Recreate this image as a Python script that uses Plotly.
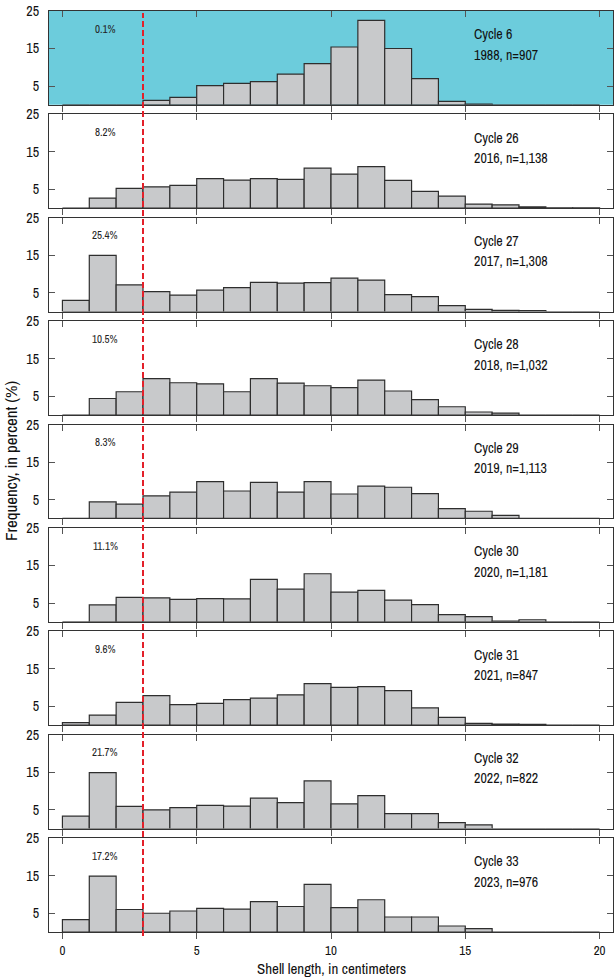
import plotly.graph_objects as go

# ---------------- data ----------------
bin_centers = [e + 0.5 for e in range(20)]   # 1-cm bins from 0 to 20 cm
cycles = ["Cycle 6", "Cycle 26", "Cycle 27", "Cycle 28", "Cycle 29",
          "Cycle 30", "Cycle 31", "Cycle 32", "Cycle 33"]
year_n = ["1988, n=907", "2016, n=1,138", "2017, n=1,308", "2018, n=1,032",
          "2019, n=1,113", "2020, n=1,181", "2021, n=847", "2022, n=822",
          "2023, n=976"]
pct_below = ["0.1%", "8.2%", "25.4%", "10.5%", "8.3%", "11.1%", "9.6%",
             "21.7%", "17.2%"]

freq_c6 = [0, 0, 0, 1.2, 2.0, 5.1, 5.7, 6.2, 8.2, 11.0, 15.4, 22.5, 15.0, 7.0, 0.9, 0.2, 0, 0, 0, 0]
freq_c26 = [0, 2.7, 5.3, 5.7, 6.1, 7.9, 7.5, 7.9, 7.7, 10.7, 9.1, 11.1, 7.4, 4.5, 3.2, 1.1, 0.9, 0.35, 0.1, 0.1]
freq_c27 = [3.0, 15.0, 7.1, 5.3, 4.4, 5.7, 6.4, 7.8, 7.6, 7.7, 8.9, 8.4, 4.5, 4.0, 1.6, 0.6, 0.35, 0.25, 0, 0]
freq_c28 = [0, 4.4, 6.2, 9.7, 8.6, 8.3, 6.2, 9.7, 8.5, 7.8, 7.3, 9.3, 6.4, 4.1, 2.2, 0.8, 0.5, 0, 0, 0]
freq_c29 = [0, 4.4, 3.8, 6.0, 7.0, 9.8, 7.3, 9.6, 7.0, 9.8, 6.5, 8.6, 8.3, 6.6, 2.6, 1.9, 0.8, 0, 0, 0]
freq_c30 = [0, 4.5, 6.5, 6.4, 6.0, 6.2, 6.1, 11.3, 8.7, 12.8, 7.9, 8.4, 5.8, 4.6, 1.9, 1.4, 0.2, 0.55, 0, 0]
freq_c31 = [0.7, 2.7, 6.1, 7.9, 5.5, 5.8, 6.8, 7.2, 8.1, 11.1, 10.1, 10.3, 9.2, 4.6, 2.1, 0.5, 0.3, 0.2, 0, 0]
freq_c32 = [3.3, 14.9, 5.9, 5.0, 5.6, 6.2, 6.0, 8.1, 6.9, 12.7, 6.6, 8.8, 4.0, 4.0, 1.6, 1.0, 0, 0, 0, 0]
freq_c33 = [3.3, 14.9, 6.0, 5.0, 5.6, 6.3, 6.1, 8.1, 6.8, 12.7, 6.5, 8.6, 4.0, 4.0, 1.6, 0.9, 0, 0, 0, 0]
freqs = [freq_c6, freq_c26, freq_c27, freq_c28, freq_c29, freq_c30,
         freq_c31, freq_c32, freq_c33]

x_tick_vals = [0, 5, 10, 15, 20]
y_tick_vals = [5, 15, 25]
CUTOFF_CM = 3

# ---------------- layout ----------------
W, H = 616, 978
ML, MR, MT, MB = 49, 2, 9, 46
plot_h = H - MT - MB
n = len(cycles)
panel_h = 94
gap = (plot_h - n * panel_h) / (n - 1)

FONT = "Archivo Narrow, Roboto Condensed, DejaVu Sans Condensed, sans-serif"
LINE_C = "#333333"
TICK_C = "#555555"

fig = go.Figure()
layout = dict(
    width=W, height=H,
    margin=dict(l=ML, r=MR, t=MT, b=MB, pad=0),
    paper_bgcolor="white", plot_bgcolor="white",
    showlegend=False,
    font=dict(family=FONT, size=13, color="#111"),
)
annotations = []
shapes = []

for i in range(n):
    k = i + 1
    sfx = "" if k == 1 else str(k)
    top = i * (panel_h + gap)
    bot = top + panel_h
    dom = [1 - bot / plot_h, 1 - top / plot_h]

    fig.add_trace(go.Bar(
        x=bin_centers, y=freqs[i], width=1,
        marker=dict(color="#C8C9CB", line=dict(color="#2e2e2e", width=1.2)),
        xaxis="x" + sfx, yaxis="y" + sfx, hoverinfo="x+y",
    ))
    # helper trace for top overlay axis
    kt = k + n
    fig.add_trace(go.Scatter(x=[], y=[], xaxis="x" + str(kt), yaxis="y" + sfx,
                             showlegend=False))

    layout["xaxis" + sfx] = dict(
        domain=[0, 1], range=[-0.5, 20.5], anchor="y" + sfx,
        tickmode="array", tickvals=x_tick_vals,
        ticks="outside", ticklen=6, tickwidth=1.2, tickcolor=TICK_C,
        showticklabels=(k == n), tickfont=dict(size=13),
        showline=True, linecolor=LINE_C, linewidth=1.2, mirror=True,
        showgrid=False, zeroline=False, fixedrange=True,
    )
    layout["xaxis" + str(kt)] = dict(
        overlaying="x" + sfx, side="top", anchor="y" + sfx,
        range=[-0.5, 20.5], tickmode="array", tickvals=x_tick_vals,
        ticks="inside", ticklen=6, tickwidth=1.2, tickcolor=TICK_C,
        showticklabels=False, showline=False, showgrid=False, zeroline=False,
    )
    layout["yaxis" + sfx] = dict(
        domain=dom, range=[0, 25], anchor="x" + sfx,
        tickmode="array", tickvals=y_tick_vals,
        ticks="inside", ticklen=6, tickwidth=1.2, tickcolor=TICK_C,
        tickfont=dict(size=14), ticklabelstandoff=6,
        showline=True, linecolor=LINE_C, linewidth=1.2, mirror="ticks",
        showgrid=False, zeroline=False, fixedrange=True,
    )

    annotations.append(dict(
        text=pct_below[i], x=1.6, y=20.3, xref="x" + sfx, yref="y" + sfx,
        showarrow=False, font=dict(size=11, color="#222"),
        xanchor="center", yanchor="middle"))
    annotations.append(dict(
        text=cycles[i], x=15.25, y=18.8, xref="x" + sfx, yref="y" + sfx,
        showarrow=False, font=dict(size=14, color="#111"),
        xanchor="left", yanchor="middle"))
    annotations.append(dict(
        text=year_n[i], x=15.25, y=13.4, xref="x" + sfx, yref="y" + sfx,
        showarrow=False, font=dict(size=14, color="#111"),
        xanchor="left", yanchor="middle"))

# cyan background for the historical cycle
shapes.append(dict(type="rect", xref="x domain", yref="y domain",
                   x0=0, x1=1, y0=0, y1=1, fillcolor="#6CCCDC",
                   line=dict(width=0), layer="below"))
# dashed cutoff line across all panels
shapes.append(dict(type="line", xref="x", yref="paper",
                   x0=CUTOFF_CM, x1=CUTOFF_CM, y0=-4 / plot_h, y1=1 - 2 / plot_h,
                   line=dict(color="#E3202A", width=2, dash="6px,3px"),
                   layer="above"))

annotations.append(dict(
    text="Frequency, in percent (%)", textangle=-90,
    x=(10 - ML) / (W - ML - MR), y=(H - MB - 460) / plot_h,
    xref="paper", yref="paper", showarrow=False,
    font=dict(size=17, color="#111"), xanchor="center", yanchor="middle"))
annotations.append(dict(
    text="Shell length, in centimeters",
    x=10, xref="x", y=(H - MB - 969) / plot_h, yref="paper",
    showarrow=False, font=dict(size=15, color="#111"),
    xanchor="center", yanchor="middle"))

layout["annotations"] = annotations
layout["shapes"] = shapes
fig.update_layout(**layout)

fig.write_html("out.html")
